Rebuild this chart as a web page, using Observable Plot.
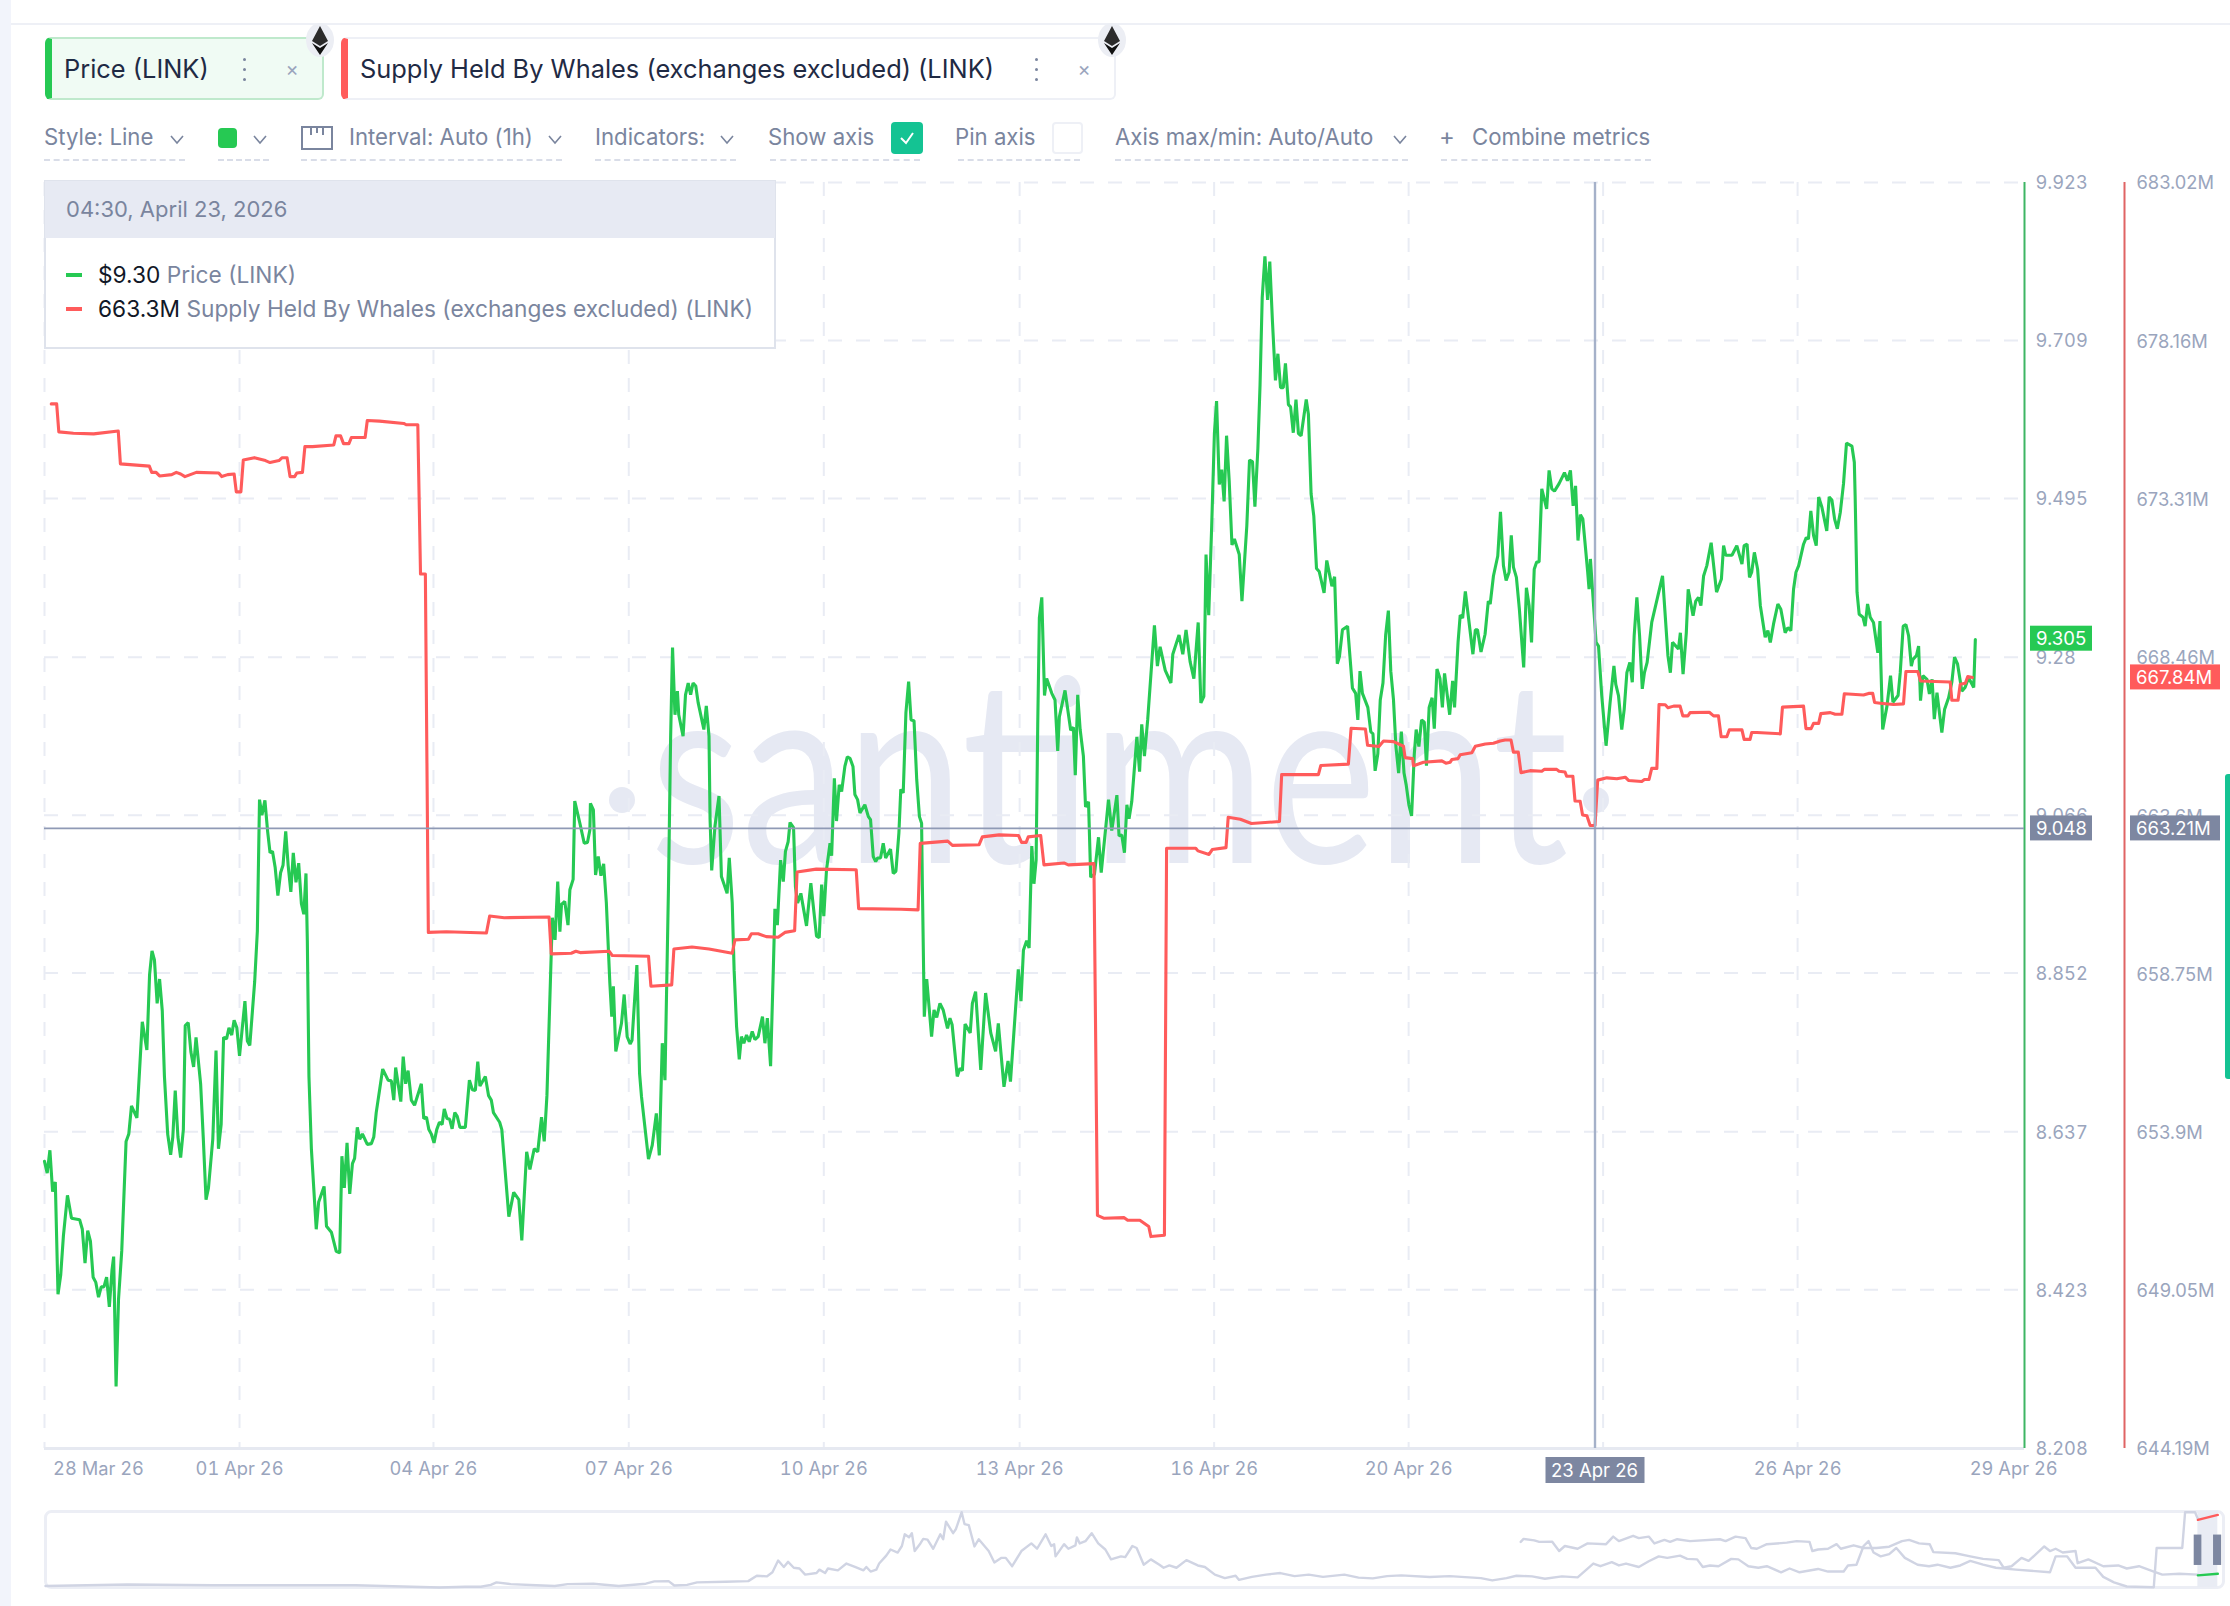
<!DOCTYPE html>
<html><head><meta charset="utf-8">
<script src="https://cdn.jsdelivr.net/npm/d3@7"></script>
<script src="https://cdn.jsdelivr.net/npm/@observablehq/plot@0.6"></script>
<style>
html,body{margin:0;padding:0;background:#fff;font-family:Inter,sans-serif;}
#page{position:relative;width:2230px;height:1606px;overflow:hidden;background:#fff;}
#page>*{position:absolute;}
.t{font-size:22px;color:#7a859e;line-height:30px;height:30px;white-space:nowrap;}
.r{font-size:22.7px;}
.u{height:0;border-top:2px dashed #d9dde8;}
.tab{box-sizing:border-box;top:37px;height:63px;border-radius:6px;border:2px solid #eef0f6;border-left:7px solid;}
</style></head><body><div id="page"></div>
<script>
// ---- data ----
const hoursMax = 733;
// [hour since start of chart, price in USD]
const priceByHour = [[0,8.597],[1,8.581],[2,8.612],[3,8.556],[4,8.569],[5,8.417],[6,8.443],[7,8.496],[8.5,8.551],[10,8.520],[13,8.518],[14,8.505],[15,8.459],[16,8.503],[17,8.489],[18,8.440],[19,8.433],[20,8.413],[21,8.427],[22,8.427],[23,8.440],[24,8.400],[25,8.450],[25.6,8.468],[26.5,8.292],[27.4,8.410],[28.6,8.476],[30.2,8.624],[31.2,8.634],[32.2,8.672],[34.2,8.656],[36.2,8.786],[37.9,8.748],[38.9,8.850],[39.8,8.882],[40.7,8.870],[41.7,8.811],[42.6,8.844],[43.6,8.801],[44.4,8.712],[45.6,8.634],[46.7,8.606],[47.5,8.630],[48.4,8.693],[49.4,8.630],[50.4,8.602],[51.4,8.640],[52.1,8.781],[53.2,8.785],[54.2,8.745],[55.2,8.725],[56.1,8.765],[57.8,8.702],[58.8,8.627],[59.8,8.545],[60.7,8.561],[62.3,8.627],[63.5,8.747],[64.4,8.614],[65.4,8.647],[66.3,8.765],[67.4,8.763],[68.3,8.778],[69.3,8.768],[70.2,8.788],[71.2,8.778],[72.2,8.740],[74.2,8.814],[75.1,8.760],[76,8.754],[77.8,8.840],[78.8,8.909],[79.6,9.087],[80.5,9.066],[81.6,9.086],[82.6,9.044],[83.5,9.015],[84.4,9.017],[85.4,8.995],[86.4,8.957],[87.4,8.988],[88.3,8.998],[89.3,9.044],[90.2,8.998],[91.2,8.962],[92.1,9.015],[93.1,8.975],[94.1,9.001],[95.1,8.946],[96,8.932],[96.8,8.987],[97.3,8.896],[97.9,8.712],[98.8,8.614],[100.6,8.505],[101.5,8.542],[103.5,8.563],[104.4,8.509],[106.2,8.501],[108,8.475],[109.3,8.473],[110.1,8.604],[111,8.561],[112,8.622],[113,8.553],[114,8.594],[114.8,8.601],[115.8,8.643],[116.7,8.627],[117.7,8.634],[119.5,8.620],[121,8.621],[121.9,8.630],[122.8,8.663],[125.2,8.722],[127.2,8.707],[128.4,8.706],[129.3,8.680],[130,8.724],[131.9,8.678],[132.8,8.739],[133.7,8.702],[134.6,8.720],[135.8,8.680],[137,8.673],[139.5,8.702],[140.4,8.655],[141.4,8.657],[142.3,8.640],[143.2,8.634],[144.2,8.622],[145.2,8.640],[146.2,8.650],[147.2,8.647],[148,8.668],[149,8.655],[150,8.654],[150.9,8.641],[151.9,8.663],[152.8,8.658],[153.8,8.643],[155.8,8.643],[157.3,8.707],[158.4,8.694],[159.5,8.693],[160.4,8.732],[161.2,8.699],[163.2,8.712],[164.4,8.686],[165.4,8.680],[166.2,8.663],[168.5,8.650],[169.3,8.640],[171.9,8.522],[173.7,8.555],[175.6,8.545],[176.7,8.490],[178.5,8.610],[179.7,8.586],[181.3,8.614],[182.6,8.610],[184,8.657],[185,8.624],[186,8.686],[188,8.927],[189,8.897],[190,8.976],[190.8,8.908],[191.4,8.945],[192.6,8.949],[193.8,8.917],[194.5,8.965],[195.7,8.979],[196.3,9.085],[198.2,9.055],[199.8,9.028],[201,9.029],[201.9,9.046],[202.1,9.082],[203.2,9.073],[204,8.985],[205,9.010],[206,8.984],[207,9.000],[208,8.947],[209.3,8.838],[210,8.793],[210.6,8.834],[211.5,8.746],[213.6,8.784],[214.6,8.823],[215.7,8.766],[216.8,8.756],[217.5,8.761],[219.3,8.863],[220.3,8.716],[221,8.685],[223.6,8.600],[225,8.619],[226.5,8.662],[227.6,8.605],[228.7,8.757],[229.7,8.707],[231,8.969],[231.8,9.173],[232.5,9.293],[233.4,9.202],[234.3,9.234],[234.8,9.202],[236.4,9.173],[237.3,9.229],[238.3,9.245],[239.2,9.229],[240.1,9.245],[241.1,9.241],[242,9.218],[244.1,9.182],[245,9.214],[246,9.173],[246.4,9.060],[247,8.991],[248.2,9.051],[249.7,9.092],[250.6,8.983],[252.7,8.960],[253.5,9.008],[254.6,8.947],[255.3,8.856],[256.2,8.780],[257.2,8.735],[258,8.766],[258.9,8.757],[259.9,8.768],[260.9,8.759],[262,8.773],[263,8.762],[264.2,8.766],[265.8,8.793],[266.7,8.757],[267.6,8.791],[268.8,8.726],[269.8,8.856],[270.4,8.939],[271.3,8.917],[272.5,9.005],[273.5,8.976],[274.3,9.017],[275.3,9.030],[276,9.056],[277.3,9.049],[278,8.969],[278.8,8.947],[280,8.960],[282.1,8.916],[283.7,8.974],[285.8,8.902],[286.8,8.900],[287.7,8.972],[288.5,8.929],[289.5,8.992],[290.8,9.028],[291.4,9.011],[292.4,9.116],[293.2,9.058],[294.2,9.107],[295.1,9.098],[296.3,9.132],[297.2,9.145],[298.2,9.143],[299.3,9.132],[300,9.094],[301,9.087],[301.9,9.069],[303.7,9.080],[305,9.064],[305.8,9.060],[306.8,9.010],[307.7,9.003],[308.4,9.008],[309.5,9.008],[310.5,9.028],[311.4,9.008],[313.2,9.020],[314.2,8.987],[315.2,8.990],[316.3,9.042],[317,9.101],[317.9,9.096],[318.9,9.205],[319.9,9.247],[320.8,9.195],[321.9,9.194],[322.9,9.114],[323.9,9.064],[324.7,9.055],[325,8.969],[325.7,8.793],[326.6,8.844],[328.4,8.766],[329.3,8.802],[330.3,8.792],[331.5,8.811],[332.7,8.802],[334.3,8.777],[335.2,8.791],[336,8.782],[337.9,8.712],[338.9,8.723],[339.8,8.720],[340.8,8.783],[342.7,8.771],[343.5,8.811],[344.7,8.827],[346.6,8.721],[348.4,8.825],[350.3,8.771],[352.1,8.746],[353.1,8.784],[355.2,8.698],[356.7,8.733],[357.6,8.705],[360.5,8.857],[361.5,8.814],[362.4,8.883],[363.6,8.896],[364.5,8.886],[365.5,9.024],[366.3,8.973],[367.1,9.005],[367.7,9.189],[368.3,9.333],[369.2,9.361],[370.2,9.228],[371,9.251],[372.9,9.231],[374.1,9.222],[375.1,9.153],[375.7,9.199],[377.8,9.235],[379.9,9.181],[380.9,9.185],[381.6,9.120],[382.5,9.229],[383.4,9.182],[384.6,9.146],[385.4,9.077],[386.5,9.084],[387.3,8.982],[388.7,8.986],[390.2,9.036],[391.2,8.988],[393.9,9.087],[395.1,9.045],[397,9.093],[397.8,9.038],[398.8,9.039],[399.8,9.015],[400.7,9.080],[401.5,9.061],[402.5,9.084],[404.4,9.172],[405.4,9.125],[406.2,9.189],[407.2,9.146],[408.4,9.195],[410.9,9.323],[412,9.268],[413,9.294],[414.9,9.262],[417,9.245],[417.7,9.284],[420,9.310],[421.4,9.284],[422.6,9.317],[424.1,9.274],[425.5,9.251],[427.1,9.327],[428.1,9.218],[429.2,9.227],[430,9.419],[431,9.337],[432.1,9.458],[433.1,9.583],[433.9,9.627],[434.9,9.514],[435.8,9.534],[436.7,9.491],[437.6,9.580],[438.6,9.517],[439.6,9.432],[440.5,9.440],[442.3,9.419],[443.3,9.356],[445.1,9.458],[446.1,9.547],[447.2,9.545],[448.1,9.484],[449.2,9.563],[450,9.649],[450.8,9.767],[451.8,9.823],[452.8,9.764],[453.6,9.816],[454.6,9.734],[455.7,9.655],[456.6,9.691],[457.6,9.645],[458.6,9.645],[459.4,9.678],[460.5,9.622],[461.3,9.619],[462.3,9.584],[463.3,9.629],[464.2,9.583],[465.2,9.580],[467.1,9.629],[467.9,9.609],[468.9,9.501],[469.9,9.471],[470.9,9.400],[471.9,9.396],[473.7,9.367],[474.7,9.411],[476.6,9.376],[477.6,9.389],[478.6,9.271],[479.4,9.281],[480.5,9.317],[482.4,9.322],[484.2,9.238],[485.4,9.231],[486.2,9.195],[487,9.261],[487.9,9.231],[489.9,9.212],[491,9.179],[491.8,9.176],[492.6,9.126],[493.6,9.149],[494.5,9.222],[495.5,9.245],[496.5,9.310],[497.5,9.343],[498.4,9.261],[499.4,9.222],[500.3,9.159],[501.3,9.123],[502.3,9.179],[503.3,9.123],[504.1,9.107],[505.1,9.080],[506.1,9.065],[507.1,9.149],[507.8,9.182],[508.8,9.159],[509.8,9.195],[510.8,9.192],[511.6,9.133],[512.6,9.212],[513.7,9.225],[514.5,9.183],[515.5,9.264],[516.6,9.251],[517.5,9.212],[518.3,9.258],[520.2,9.202],[521.3,9.248],[522,9.212],[523.3,9.300],[524.1,9.337],[525,9.333],[526,9.369],[528.8,9.284],[529.7,9.317],[530.5,9.317],[531.8,9.287],[533.3,9.311],[534.5,9.356],[535.2,9.352],[536.4,9.390],[538,9.417],[539,9.477],[540.1,9.404],[541.1,9.384],[542.2,9.395],[543,9.445],[543.8,9.402],[544.9,9.388],[546,9.345],[547.6,9.266],[548.6,9.374],[549.6,9.350],[550.5,9.300],[551.5,9.399],[552.4,9.409],[553.3,9.409],[554.3,9.508],[556.1,9.481],[557,9.533],[558,9.508],[559,9.505],[560.7,9.515],[562.7,9.530],[563.8,9.519],[564.9,9.533],[565.9,9.485],[566.8,9.512],[567.7,9.438],[568.6,9.473],[569.5,9.467],[571.3,9.395],[571.8,9.372],[572.3,9.413],[573.4,9.354],[574.4,9.300],[575.3,9.295],[576.5,9.228],[578.1,9.160],[579.6,9.219],[581,9.268],[581.7,9.243],[582.7,9.228],[583.9,9.182],[584.8,9.209],[585.8,9.259],[586.9,9.273],[587.8,9.246],[588.5,9.309],[589.5,9.361],[590.5,9.309],[591.5,9.237],[592.3,9.259],[593.3,9.273],[595,9.327],[599,9.390],[601,9.282],[601.9,9.259],[602.7,9.300],[604.9,9.291],[605.6,9.313],[606.6,9.257],[607.8,9.313],[608.5,9.372],[610.3,9.336],[611.3,9.356],[612.3,9.361],[613.2,9.350],[614.2,9.390],[615.4,9.404],[617,9.435],[619,9.368],[620.8,9.386],[621.6,9.431],[622.4,9.418],[624.7,9.418],[626.5,9.431],[628.4,9.406],[629.2,9.431],[630.3,9.433],[631.2,9.388],[632,9.395],[633,9.422],[634.2,9.399],[635.2,9.350],[637,9.307],[638,9.316],[638.9,9.300],[640.1,9.325],[641.7,9.352],[642.8,9.345],[644.4,9.313],[645.4,9.320],[646.5,9.316],[647.5,9.372],[648.4,9.395],[649.4,9.404],[651.2,9.433],[652.2,9.442],[653,9.440],[653.9,9.478],[654.9,9.445],[655.9,9.431],[656.8,9.497],[658,9.483],[659.8,9.451],[660.7,9.497],[661.7,9.493],[662.7,9.467],[663.7,9.454],[664.8,9.476],[666,9.515],[667.1,9.570],[669.1,9.566],[670,9.544],[670.3,9.499],[671,9.368],[671.8,9.338],[673.2,9.334],[674,9.322],[674.9,9.352],[675.9,9.334],[677.1,9.327],[678.7,9.286],[679.5,9.329],[679.8,9.273],[680.5,9.182],[682.1,9.214],[683.4,9.255],[684.3,9.219],[686.2,9.228],[687,9.259],[688.1,9.322],[689.1,9.324],[690.1,9.309],[691.1,9.268],[691.7,9.277],[693,9.282],[693.8,9.295],[694.5,9.221],[695.4,9.255],[696.9,9.250],[697.8,9.230],[698.8,9.250],[699.6,9.196],[700.6,9.232],[702.4,9.178],[703.4,9.209],[704.9,9.225],[706.1,9.246],[707.1,9.280],[708.2,9.271],[709.8,9.234],[711,9.239],[712.3,9.252],[714.2,9.239],[714.8,9.304]];
// [hour since start of chart, supply in millions of LINK]
const supplyByHour = [[2.5,676.23],[4.5,676.23],[5.3,675.37],[10.7,675.33],[18.2,675.31],[27.3,675.40],[28.1,674.39],[38.8,674.32],[39.7,674.13],[41.3,674.13],[42.6,674.02],[47.1,674.06],[48.8,674.13],[50.4,674.08],[52,674.00],[56.2,674.13],[64.5,674.11],[65.6,674.00],[67.8,674.06],[70.2,674.08],[71,673.53],[72.7,673.53],[73.6,674.51],[77.7,674.58],[81.8,674.49],[83.5,674.43],[86.8,674.49],[88,674.58],[89.8,674.58],[90.9,674.00],[92.6,674.00],[93.4,674.11],[95.5,674.13],[96.4,674.92],[99.2,674.92],[107.1,674.97],[107.9,675.25],[109.6,675.25],[110.7,675.01],[112.7,675.01],[113.6,675.20],[118.7,675.20],[119.5,675.72],[124,675.70],[133,675.63],[133.9,675.59],[138.2,675.59],[139.2,671.01],[141,671.01],[142.1,660.02],[148.8,660.04],[163.6,660.00],[164.8,660.52],[170.2,660.47],[186.8,660.49],[187.6,659.36],[195,659.38],[196.7,659.44],[198.3,659.40],[209.1,659.44],[210.2,659.31],[223.6,659.29],[224.5,658.37],[232.2,658.41],[233,659.51],[239.7,659.57],[246,659.51],[254.6,659.38],[255.6,659.79],[260.6,659.81],[261.7,659.98],[264.2,659.98],[267.2,659.89],[271.6,659.87],[274.1,660.02],[277.7,660.07],[278.6,661.87],[285.7,661.96],[300.5,661.94],[301.4,660.75],[317.1,660.73],[323.4,660.71],[324.2,662.75],[334.4,662.82],[336.1,662.69],[346,662.71],[347.2,662.95],[353.4,663.01],[360.6,662.99],[361.7,662.78],[363.4,662.78],[364.2,662.95],[368.8,662.99],[370,662.09],[377.4,662.15],[379,662.09],[388.5,662.13],[389.8,651.34],[392.3,651.25],[399.7,651.27],[401,651.19],[405.5,651.19],[408.8,651.00],[409.6,650.69],[414.6,650.73],[415.4,662.60],[426.2,662.60],[427,662.52],[431.1,662.41],[432.3,662.56],[437.4,662.62],[438.2,663.55],[442.7,663.49],[446.8,663.36],[457.2,663.42],[458,664.86],[471.6,664.86],[472.5,665.14],[482.7,665.18],[483.7,666.28],[489,666.26],[489.8,665.76],[494,665.72],[495.7,665.89],[499.4,665.87],[503.1,665.73],[503.7,665.38],[506.5,665.35],[506.8,665.13],[510.5,665.24],[517.3,665.28],[518.8,665.21],[520.4,665.24],[521,665.32],[523.3,665.35],[524.1,665.47],[528.4,665.53],[529.7,665.73],[533.4,665.80],[536.4,665.82],[538.9,665.89],[540.7,665.92],[542.9,665.92],[543.8,665.55],[545.6,665.55],[546.6,664.92],[550,664.98],[554.3,664.96],[555.3,665.02],[559.8,665.02],[560.7,664.96],[562.9,664.94],[563.5,664.81],[565.8,664.81],[566.6,664.05],[568.5,664.04],[569.4,663.62],[571,663.60],[572.2,663.30],[574,663.30],[575,664.69],[578.4,664.76],[582.1,664.73],[585.2,664.78],[586.4,664.68],[591.3,664.65],[592.3,664.71],[594,664.71],[595,665.05],[596.9,665.05],[597.7,667.01],[600,667.00],[601,666.91],[603.1,666.96],[605.5,666.96],[606.5,666.66],[608.4,666.66],[609.2,666.76],[616.3,666.77],[617.9,666.66],[619.7,666.66],[620.7,666.02],[622.8,666.02],[623.7,666.23],[628.4,666.23],[629.2,665.94],[631.4,665.94],[632,666.15],[633.9,666.15],[642.6,666.11],[643.4,666.93],[651.2,666.96],[652.1,666.27],[654,666.27],[654.9,666.43],[656.8,666.43],[657.6,666.73],[661.1,666.76],[662.9,666.71],[665.4,666.71],[666.3,667.34],[673.4,667.30],[675.3,667.35],[676.8,667.35],[677.5,667.07],[679.6,667.05],[684.5,667.01],[688.2,667.03],[689.1,668.02],[693.5,668.02],[694.5,667.73],[705.5,667.70],[706.1,667.14],[708.4,667.14],[709.2,667.63],[711.1,667.66],[712,667.87],[713.7,667.84]];
const priceTicks = [9.923,9.709,9.495,9.28,9.066,8.852,8.637,8.423,8.208];
const supplyTicks = [683.02,678.16,673.31,668.46,663.6,658.75,653.9,649.05,644.19];
const gridHours = [0,72.2,144,216.3,288.5,361,433,505,577,649];
const xLabelHours = [20,72.2,144,216.3,288.5,361,433,505,649,729];
const xLabels = ["28 Mar 26","01 Apr 26","04 Apr 26","07 Apr 26","10 Apr 26","13 Apr 26","16 Apr 26","20 Apr 26","26 Apr 26","29 Apr 26"];
const hoverHour = 574, hoverLabel = "23 Apr 26", hoverPrice = 9.048, hoverSupply = 663.21;
const lastPrice = 9.305, lastSupply = 667.84;
// overview strip: long-history gray lines, [position, percent of strip height]
const overviewA = [[32,2],[90,4],[150,3],[250,3],[309,0],[327,1],[338,1],[345,3.5],[349,6.7],[359,4.4],[377,3],[390,2],[399,4.4],[417,5],[435,2],[454,5],[460,8],[470,8.4],[474,2.7],[483,3.5],[490,6.7],[510,7.5],[526,8.4],[532,15.5],[539,14.6],[543,20],[547,35.5],[551,27],[554,33.7],[558,26],[562,25],[566,17],[574,19],[576,23.5],[580,19],[582,25],[589,22.6],[595,31.5],[601,27],[607,22.6],[609,27],[612,21],[616,23.5],[618,31.5],[623,42],[626,50],[631,46],[634,54.6],[636,70],[639,66],[641,71.5],[643,48],[647,58],[649,64],[652,63],[656,51],[661,70],[663,63.5],[665,86.6],[670,71.5],[672,77],[676,99],[678,83.5],[681,82],[685,54],[688,63.5],[695,48],[699,33],[704,39],[707,39],[711.5,28],[718,48],[725,58],[729,51],[735,70],[739,54.6],[741,57],[742,41],[748,57],[751,51],[756,55.5],[757,66],[759,58],[763,61],[767.4,71.5],[772,58],[777,50],[781,37],[788,41],[791,40],[796,54.6],[799,52],[804,30],[809,37],[815,30],[818,26],[822,29],[827,26],[834,36],[842,29],[847,27],[854,17],[861,12.4],[868.6,15.5],[871,10],[880,14],[890,17],[900,19],[910,15],[920,17],[930,14],[945,17],[955,13],[965,12],[975,15],[985,16],[1005,13.8],[1019,15],[1041,12.4],[1049,9.3],[1059,12.4],[1066,15.5],[1077,14.6],[1086,11.5],[1098,14.6],[1109,13.3],[1120,31.5],[1125,28],[1133,33.3],[1138,29],[1143,31.5],[1152,27],[1159,34.6],[1166,41],[1172,39],[1181,42],[1186,37.7],[1193,37],[1197,27],[1202,29],[1208,28],[1217,37.7],[1222,37],[1229,28],[1236,26],[1242,28],[1252,20],[1258,25],[1265,20],[1278,24.4],[1285,21],[1296,21],[1299,29],[1305,30],[1310,54.6],[1313.5,61],[1317,46],[1322,41],[1328,44],[1333,52],[1339,39],[1348,30],[1356,28],[1362,30],[1371,26],[1378,29],[1385,35],[1394,30],[1403,26],[1417,23.5],[1441,20],[1445,41],[1453,41],[1459,26],[1473,26],[1478.5,14],[1486,6.7],[1495,1.3],[1514,0.4],[1516,52],[1534,52],[1536,99],[1543,99],[1545,90]];
const overviewB = [[1069,60],[1071,64],[1078.5,62],[1082,60],[1091,60.4],[1096,48],[1100,54.6],[1109,51],[1116,58],[1129,57],[1134,67],[1138,61],[1148,68],[1152,65],[1159,67],[1163,58],[1170,62.6],[1174,60],[1179,63.5],[1188,61],[1209,63.5],[1213,61],[1220,67],[1227,65],[1231,52],[1235,51],[1242,57],[1256,59],[1263,61],[1272,60],[1274,48],[1278,50],[1285,51],[1291,57],[1294,51],[1303,55.5],[1310,52],[1319,52],[1328,53.7],[1337,61],[1342,62.6],[1349,58],[1356.5,57],[1359,46.6],[1374.5,45],[1385,41],[1394,37.7],[1405,36],[1408.5,26],[1414,28],[1421,39],[1426,35],[1437,54],[1441,48],[1445,51],[1450,46],[1459,48],[1460.5,32],[1468,37],[1478.5,28],[1489,29],[1495,25],[1503.6,28],[1514,21],[1520,17],[1532,18],[1545,17]];
const overviewSupply = [[1545,89],[1559,95.5]];
const overviewPrice = [[1545,16],[1559,18]];
const overviewHandles = [[1542.4,1547.8],[1556,1561.7]];

// ---- colours ----
const GREEN="#26c953", RED="#ff5b5b", SLATE="#7d87a1", LABEL="#9aa5bd", GRID="#e9ecf4";
const FONT="Inter, sans-serif";
const page = document.getElementById("page");
const toPrice = d3.scaleLinear([644.19,683.02],[8.208,9.923]);
const price = priceByHour.map(([h,v])=>({h,v}));
const supply = supplyByHour.map(([h,v])=>({h,v:toPrice(v)}));

// ---- page chrome ----
function add(html){const w=document.createElement("div");w.innerHTML=html;return page.appendChild(w.firstElementChild);}
add(`<div style="left:0;top:0;width:11px;height:1606px;background:#f2f4fb"></div>`);
add(`<div style="left:11px;top:23px;width:2219px;height:2px;background:#eef0f6"></div>`);
add(`<div style="left:2225px;top:774px;width:5px;height:305px;background:#14c393;border-radius:3px 0 0 3px"></div>`);
// metric tabs
add(`<div class="tab" style="left:45px;width:279px;background:#f0fbf4;border-color:#bfe9cc;border-left-color:${GREEN}"></div>`);
add(`<div class="tab" style="left:341px;width:775px;background:#fff;border-left-color:${RED}"></div>`);
const tabT="font-size:25.4px;color:#1f2a44;top:54px;line-height:30px;height:30px;white-space:nowrap;";
add(`<div style="${tabT}left:64px">Price (LINK)</div>`);
add(`<div style="${tabT}left:360px">Supply Held By Whales (exchanges excluded) (LINK)</div>`);
function kebab(x){for(const dy of [-10,0,10])add(`<div style="left:${x-1.5}px;top:${68+dy}px;width:3px;height:3px;border-radius:50%;background:#7a859e"></div>`);}
kebab(244);kebab(1036);
add(`<div style="left:284px;top:54px;font-size:20px;line-height:30px;color:#9aa5bd;width:16px;text-align:center">×</div>`);
add(`<div style="left:1076px;top:54px;font-size:20px;line-height:30px;color:#9aa5bd;width:16px;text-align:center">×</div>`);
function eth(cx){add(`<svg style="left:${cx-17}px;top:22px" width="34" height="36" viewBox="0 0 34 36"><ellipse cx="17" cy="18" rx="14" ry="17" fill="#eceef4"/><polygon points="17,4 25,19 17,24 9,19" fill="#2b2b2b"/><polygon points="17,26 25,21 17,33 9,21" fill="#111"/></svg>`);}
eth(320);eth(1112);
// toolbar
const tb=[["Style: Line",44],["Interval: Auto (1h)",349],["Indicators:",595],["Show axis",768],["Pin axis",955],["Axis max/min: Auto/Auto",1115],["Combine metrics",1472]];
tb.forEach(([s,x])=>add(`<div class="t" style="left:${x}px;top:122px;font-size:22.2px">${s}</div>`));
[[44,141],[218,51],[301,261],[595,141],[770,150],[958,122],[1115,293],[1441,210]].forEach(([x,w])=>add(`<div class="u" style="left:${x}px;top:159px;width:${w}px"></div>`));
[177,260,555,727,1400].forEach(x=>add(`<svg style="left:${x-8}px;top:134px" width="16" height="12"><polyline points="2,2 8,9 14,2" fill="none" stroke="#7a859e" stroke-width="1.6"/></svg>`));
add(`<div style="left:218px;top:128px;width:19px;height:20px;border-radius:4px;background:${GREEN}"></div>`);
add(`<svg style="left:301px;top:126px" width="32" height="24"><rect x="1" y="1" width="30" height="22" fill="none" stroke="#7a859e" stroke-width="2"/><path d="M10 1v8M16 1v6M22 1v8" stroke="#7a859e" stroke-width="2"/></svg>`);
add(`<div style="left:891px;top:122px;width:32px;height:32px;border-radius:4px;background:#14c393"></div>`);
add(`<svg style="left:899px;top:130px" width="16" height="16"><polyline points="2,8 7,13 14,3" fill="none" stroke="#fff" stroke-width="2"/></svg>`);
add(`<div style="box-sizing:border-box;left:1052px;top:122px;width:31px;height:32px;border-radius:4px;border:2px solid #eef0f6;background:#fff"></div>`);
add(`<div style="left:1436px;top:122px;font-size:24px;line-height:30px;color:#7a859e;width:22px;text-align:center">+</div>`);

// ---- main chart ----
const fmtX = h => xLabels[xLabelHours.indexOf(h)];
const wordmark = () => {
  const g=d3.create("svg:g").attr("text-anchor","start");
  g.append("text").attr("x",650).attr("y",863).attr("font-family","Lato, sans-serif").attr("font-weight",400)
   .attr("font-size",256).attr("fill","#e6e9f3").attr("textLength",918).attr("lengthAdjust","spacingAndGlyphs").text("santiment");
  g.append("circle").attr("cx",622).attr("cy",800).attr("r",13).attr("fill","#e6e9f3");
  g.append("circle").attr("cx",1596).attr("cy",800).attr("r",13).attr("fill","#e6e9f3");
  return g.node();
};
const badges = (i,{x,y}) => {
  const g=d3.create("svg:g").attr("text-anchor","start");
  const b=(left,w,cy,fill,txt)=>{
    g.append("rect").attr("x",left).attr("y",cy-12.5).attr("width",w).attr("height",25).attr("fill",fill);
    g.append("text").attr("x",left+6).attr("y",cy).attr("dy","0.36em").attr("fill","#fff").attr("font-size",18.5).text(txt);
  };
  b(2030,62,y(hoverPrice),SLATE,hoverPrice.toFixed(3));
  b(2130,90,y(hoverPrice),SLATE,hoverSupply+"M");
  b(2030,62,y(lastPrice),GREEN,lastPrice.toFixed(3));
  b(2130,90,y(toPrice(lastSupply)),RED,lastSupply+"M");
  const cx=x(hoverHour);
  g.append("rect").attr("x",cx-49).attr("y",1457).attr("width",99).attr("height",26).attr("fill",SLATE);
  g.append("text").attr("x",cx).attr("y",1470).attr("dy","0.36em").attr("text-anchor","middle").attr("fill","#fff").attr("font-size",18.5).text(hoverLabel);
  return g.node();
};
const chart = Plot.plot({
  width:2230,height:1500,
  marginLeft:44,marginRight:206,marginTop:182,marginBottom:52,
  style:{background:"transparent",fontFamily:FONT},
  x:{domain:[0,hoursMax],axis:null},
  y:{domain:[8.208,9.923],axis:null},
  marks:[
    wordmark,
    Plot.ruleY(priceTicks,{stroke:GRID,strokeWidth:2,strokeDasharray:"14,14"}),
    Plot.ruleX(gridHours,{stroke:GRID,strokeWidth:2,strokeDasharray:"14,14"}),
    Plot.ruleY([8.208],{stroke:"#e6e9f1",strokeWidth:3}),
    Plot.line(price,{x:"h",y:"v",stroke:GREEN,strokeWidth:3.1,strokeLinejoin:"miter"}),
    Plot.line(supply,{x:"h",y:"v",stroke:RED,strokeWidth:3.1,strokeLinejoin:"round"}),
    Plot.ruleX([hoursMax],{stroke:"#3eb564",strokeWidth:2}),
    Plot.ruleX([hoursMax],{stroke:"#e06464",strokeWidth:2,dx:100}),
    Plot.axisY(priceTicks,{anchor:"right",tickSize:0,tickPadding:11,label:null,fontSize:18.3,color:LABEL,tickFormat:d=>String(d),dy:1}),
    Plot.text(supplyTicks,{y:d=>toPrice(d),text:d=>d+"M",frameAnchor:"right",textAnchor:"start",dx:112,dy:1,fontSize:18.3,fill:LABEL}),
    Plot.axisX(xLabelHours,{anchor:"bottom",tickSize:0,tickPadding:13,label:null,fontSize:18.3,color:LABEL,tickFormat:fmtX}),
    Plot.ruleX([hoverHour],{y1:9.923,y2:8.208,stroke:"#a5b1c9",strokeWidth:2.4}),
    Plot.ruleY([hoverPrice],{stroke:"#8f9ab5",strokeWidth:1.8}),
    badges
  ]
});
chart.style.left="0";chart.style.top="0";chart.style.position="absolute";
page.appendChild(chart);

// ---- tooltip ----
add(`<div style="box-sizing:border-box;left:44px;top:180px;width:732px;height:169px;background:#fff;border:2px solid #dfe3ec"></div>`);
add(`<div style="left:45px;top:181px;width:730px;height:57px;background:#e7eaf3"></div>`);
add(`<div class="t" style="left:66px;top:194px">04:30, April 23, 2026</div>`);
add(`<div style="left:66px;top:273px;width:16px;height:4px;background:${GREEN}"></div>`);
add(`<div style="left:66px;top:307px;width:16px;height:4px;background:${RED}"></div>`);
add(`<div class="t r" style="left:98px;top:260px"><span style="color:#111827">$9.30</span> Price (LINK)</div>`);
add(`<div class="t r" style="left:98px;top:294px"><span style="color:#111827">663.3M</span> Supply Held By Whales (exchanges excluded) (LINK)</div>`);

// ---- overview strip ----
const ov = Plot.plot({
  width:2230,height:82,
  marginLeft:45,marginRight:7,marginTop:3,marginBottom:3,
  style:{background:"transparent"},
  x:{domain:[32,1563],axis:null},
  y:{domain:[0,100],axis:null},
  marks:[
    Plot.frame({stroke:"#eceef5",strokeWidth:3,rx:6}),
    Plot.rect([[1545,1559]],{x1:d=>d[0],x2:d=>d[1],y1:0,y2:100,fill:"#e9ecf4"}),
    Plot.line(overviewA,{x:d=>d[0],y:d=>d[1],stroke:"#d0d4e3",strokeWidth:2.4}),
    Plot.line(overviewB,{x:d=>d[0],y:d=>d[1],stroke:"#d0d4e3",strokeWidth:2.4}),
    Plot.line(overviewSupply,{x:d=>d[0],y:d=>d[1],stroke:RED,strokeWidth:2.4}),
    Plot.line(overviewPrice,{x:d=>d[0],y:d=>d[1],stroke:GREEN,strokeWidth:2.4}),
    Plot.rect(overviewHandles,{x1:d=>d[0],x2:d=>d[1],y1:29,y2:69,fill:"#7d87a1"})
  ]
});
ov.style.position="absolute";ov.style.left="0";ov.style.top="1508px";
page.appendChild(ov);
</script></body></html>
